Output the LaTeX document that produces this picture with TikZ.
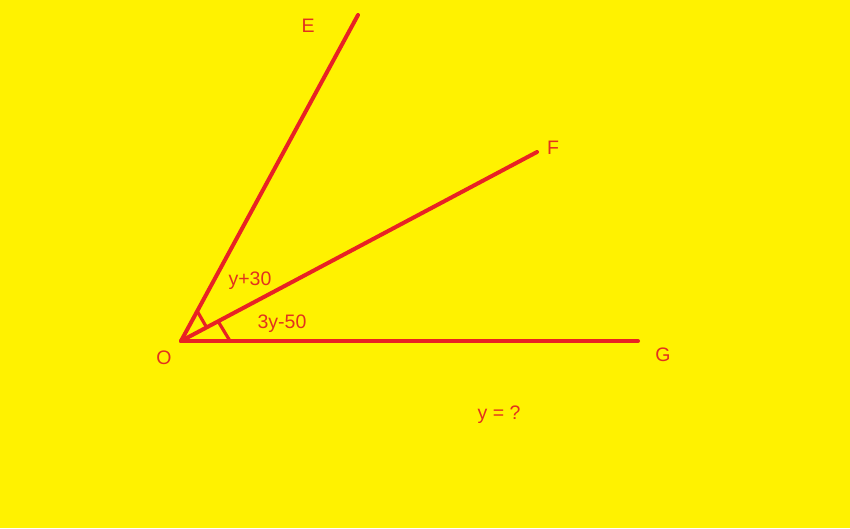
\documentclass[tikz,border=0pt]{standalone}
\usepackage{fontspec}
\setmainfont{Liberation Sans}
\usetikzlibrary{calc}
\definecolor{bgyellow}{RGB}{255,242,0}
\definecolor{paintred}{RGB}{232,34,36}
\definecolor{labelred}{RGB}{226,50,30}

\begin{document}
\begin{tikzpicture}[x=1pt,y=-1pt,
    ray/.style={paintred,line width=4pt,line cap=round},
    anglemark/.style={paintred,line width=3.2pt},
    lbl/.style={labelred,font=\fontsize{19.5}{22}\selectfont,inner sep=0pt}]
  % 背景
  \fill[bgyellow] (0,0) rectangle (850,528);
  \useasboundingbox (0,0) rectangle (850,528);

  % 点
  \coordinate (O) at (181,341);
  \coordinate (E) at (358,15);
  \coordinate (F) at (537,152);
  \coordinate (G) at (638,341);

  % 半直線
  \draw[ray] (O)--(E);
  \draw[ray] (O)--(F);
  \draw[ray] (O)--(G);

  % 角の印
  \draw[anglemark] ($(O)!34pt!(E)$)--($(O)!29pt!(F)$);
  \draw[anglemark] ($(O)!42pt!(F)$)--($(O)!49pt!(G)$);

  % 点の名前
  \node[lbl] (labE) at (308,26) {E};
  \node[lbl] (labF) at (553,148) {F};
  \node[lbl] (labG) at (663,355) {G};
  \node[lbl] (labO) at (164,358) {O};

  % 角の大きさ
  \node[lbl] (angEF) at (250,281) {y+30};
  \node[lbl] (angFG) at (282,324) {3y-50};
  \node[lbl] (ask) at (499,415) {y = ?};
\end{tikzpicture}
\end{document}
